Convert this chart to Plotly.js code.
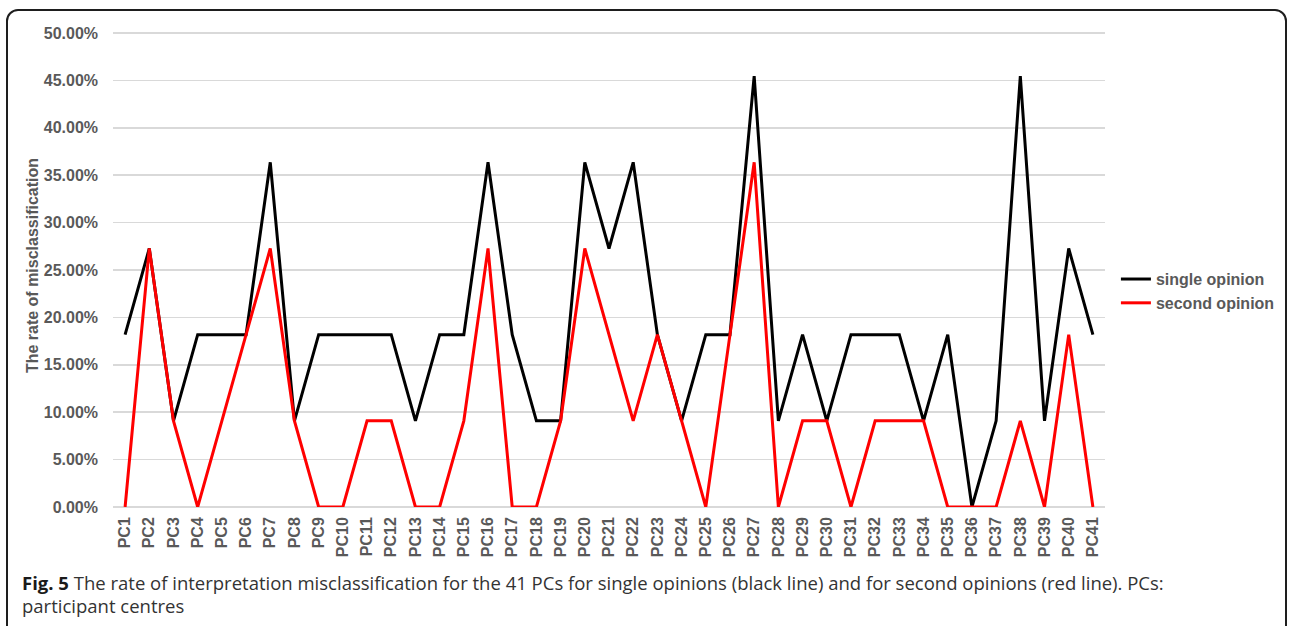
<!DOCTYPE html>
<html>
<head>
<meta charset="utf-8">
<script src="https://cdn.plot.ly/plotly-3.0.1.min.js"></script>
<style>
  html, body { margin: 0; padding: 0; background: #fff; width: 1292px; height: 626px; overflow: hidden; }
  #frame { position: absolute; left: 6px; top: 9px; width: 1281px; height: 700px; border: 2px solid #1e1e1e; border-radius: 12px; box-sizing: border-box; }
  #chart { position: absolute; left: 0; top: 0; width: 1292px; height: 626px; }
  #caption { position: absolute; left: 22px; top: 571px; font-family: "Open Sans", "Noto Sans", sans-serif; font-size: 18.5px; line-height: 23px; color: #333; white-space: nowrap; }
  #caption b { font-weight: 700; color: #1a1a1a; }
</style>
</head>
<body>
<div id="frame"></div>
<div id="chart"></div>
<div id="caption"><b>Fig. 5</b> The rate of interpretation misclassification for the 41 PCs for single opinions (black line) and for second opinions (red line). PCs:<br>participant centres</div>
<script>
const categories = ["PC1","PC2","PC3","PC4","PC5","PC6","PC7","PC8","PC9","PC10","PC11","PC12","PC13","PC14","PC15","PC16","PC17","PC18","PC19","PC20","PC21","PC22","PC23","PC24","PC25","PC26","PC27","PC28","PC29","PC30","PC31","PC32","PC33","PC34","PC35","PC36","PC37","PC38","PC39","PC40","PC41"];
const singleOpinion = [0.1818,0.2727,0.0909,0.1818,0.1818,0.1818,0.3636,0.0909,0.1818,0.1818,0.1818,0.1818,0.0909,0.1818,0.1818,0.3636,0.1818,0.0909,0.0909,0.3636,0.2727,0.3636,0.1818,0.0909,0.1818,0.1818,0.4545,0.0909,0.1818,0.0909,0.1818,0.1818,0.1818,0.0909,0.1818,0,0.0909,0.4545,0.0909,0.2727,0.1818];
const secondOpinion = [0,0.2727,0.0909,0,0.0909,0.1818,0.2727,0.0909,0,0,0.0909,0.0909,0,0,0.0909,0.2727,0,0,0.0909,0.2727,0.1818,0.0909,0.1818,0.0909,0,0.1818,0.3636,0,0.0909,0.0909,0,0.0909,0.0909,0.0909,0,0,0,0.0909,0,0.1818,0];
const yTicks = [0,0.05,0.10,0.15,0.20,0.25,0.30,0.35,0.40,0.45,0.50];
const yTickLabels = ["0.00%","5.00%","10.00%","15.00%","20.00%","25.00%","30.00%","35.00%","40.00%","45.00%","50.00%"];

const fontFam = "Liberation Sans, Arial, sans-serif";
const gray = "#595959";
const fsz = 16;

const traces = [
  {x: categories, y: singleOpinion, name: "single opinion", type: "scatter", mode: "lines",
   line: {color: "#000000", width: 3}},
  {x: categories, y: secondOpinion, name: "second opinion", type: "scatter", mode: "lines",
   line: {color: "#ff0000", width: 3}}
];

const layout = {
  width: 1292, height: 626,
  margin: {l: 113, r: 187, t: 24, b: 119},
  paper_bgcolor: "rgba(0,0,0,0)",
  plot_bgcolor: "rgba(0,0,0,0)",
  font: {family: fontFam, color: gray, size: fsz, weight: "bold"},
  xaxis: {
    type: "category", range: [-0.5, 40.5], tickangle: -90,
    showgrid: false, zeroline: false, showline: false, ticks: "",
    tickfont: {family: fontFam, size: fsz, color: gray, weight: "bold"},
    ticklabelstandoff: 6
  },
  yaxis: {
    range: [0, 0.5095], tickvals: yTicks, ticktext: yTickLabels,
    showgrid: true, gridcolor: "#d9d9d9", gridwidth: 1.5,
    zeroline: true, zerolinecolor: "#d9d9d9", zerolinewidth: 1.5,
    showline: false, ticks: "",
    tickfont: {family: fontFam, size: fsz, color: gray, weight: "bold"},
    ticklabelstandoff: 14,
    title: {text: "The rate of misclassification", standoff: 1,
            font: {family: fontFam, size: fsz, color: gray, weight: "bold"}}
  },
  legend: {
    x: 1.011, xanchor: "left", y: 0.507, yanchor: "top",
    bgcolor: "rgba(0,0,0,0)", borderwidth: 0,
    font: {family: fontFam, size: fsz, color: gray, weight: "bold"},
    itemwidth: 30, tracegroupgap: 0
  },
  showlegend: true
};

Plotly.newPlot("chart", traces, layout, {displayModeBar: false, staticPlot: true});
</script>
</body>
</html>
